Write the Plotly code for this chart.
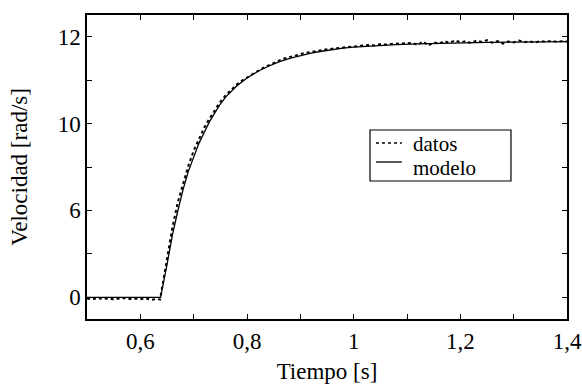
import plotly.graph_objects as go

# ---- data ----
t_datos = [0.50, 0.51, 0.52, 0.53, 0.54, 0.55, 0.56, 0.57, 0.58, 0.59,
           0.60, 0.61, 0.62, 0.63, 0.637, 0.64, 0.65, 0.66, 0.67, 0.68,
           0.69, 0.70, 0.71, 0.72, 0.73, 0.74, 0.75, 0.76, 0.77, 0.78,
           0.79, 0.80, 0.81, 0.82, 0.83, 0.84, 0.85, 0.86, 0.87, 0.88,
           0.89, 0.90, 0.91, 0.92, 0.93, 0.94, 0.95, 0.96, 0.97, 0.98,
           0.99, 1.00, 1.01, 1.02, 1.03, 1.04, 1.05, 1.06, 1.07, 1.08,
           1.09, 1.10, 1.11, 1.12, 1.13, 1.14, 1.15, 1.16, 1.17, 1.18,
           1.19, 1.20, 1.21, 1.22, 1.23, 1.24, 1.25, 1.26, 1.27, 1.28,
           1.29, 1.30, 1.31, 1.32, 1.33, 1.34, 1.35, 1.36, 1.37, 1.38,
           1.39, 1.40]
v_datos = [-0.06, -0.09, -0.04, -0.08, -0.05, -0.10, -0.06, -0.03, -0.08, -0.06,
           -0.09, -0.05, -0.12, -0.08, -0.10, 0.35, 1.80, 3.20, 4.35, 5.25,
           6.05, 6.75, 7.30, 7.82, 8.25, 8.65, 9.00, 9.30, 9.55, 9.78,
           9.97, 10.13, 10.28, 10.42, 10.56, 10.68, 10.80, 10.90, 11.00, 11.07,
           11.14, 11.20, 11.26, 11.30, 11.35, 11.38, 11.42, 11.45, 11.48, 11.50,
           11.53, 11.55, 11.58, 11.60, 11.62, 11.60, 11.66, 11.64, 11.67, 11.68,
           11.66, 11.70, 11.72, 11.62, 11.78, 11.60, 11.74, 11.68, 11.80, 11.72,
           11.83, 11.74, 11.80, 11.70, 11.82, 11.76, 11.84, 11.72, 11.80, 11.68,
           11.78, 11.74, 11.82, 11.75, 11.79, 11.73, 11.80, 11.76, 11.81, 11.77,
           11.79, 11.78]

t_modelo = [0.50, 0.638, 0.65, 0.66, 0.67, 0.68, 0.69, 0.70, 0.71, 0.72,
            0.73, 0.74, 0.75, 0.76, 0.78, 0.80, 0.82, 0.84, 0.86, 0.88,
            0.90, 0.92, 0.94, 0.96, 0.98, 1.00, 1.04, 1.08, 1.12, 1.16,
            1.20, 1.25, 1.30, 1.35, 1.40]
v_modelo = [0.0, 0.0, 1.5, 2.85, 3.95, 4.95, 5.8, 6.5, 7.1, 7.6,
            8.1, 8.5, 8.9, 9.22, 9.72, 10.1, 10.4, 10.64, 10.84, 11.0,
            11.13, 11.24, 11.33, 11.41, 11.47, 11.52, 11.59, 11.64, 11.67, 11.70,
            11.72, 11.74, 11.75, 11.76, 11.77]

series_names = ["datos", "modelo"]
x_tickvals = [0.6, 0.8, 1.0, 1.2, 1.4]
x_ticktext = ["0,6", "0,8", "1", "1,2", "1,4"]
y_tickvals = [0, 4, 8, 12]
y_ticktext = ["0", "6", "10", "12"]

FONT = "Liberation Serif, Times New Roman, Times, serif"

fig = go.Figure()
fig.add_trace(go.Scatter(x=t_datos, y=v_datos, mode="lines", name=series_names[0],
                         line=dict(color="black", width=2, dash="dot"), showlegend=False))
fig.add_trace(go.Scatter(x=t_modelo, y=v_modelo, mode="lines", name=series_names[1],
                         line=dict(color="black", width=1.3), showlegend=False))

axis_common = dict(showgrid=False, zeroline=False, showline=True, linecolor="black",
                   linewidth=1.5, mirror="allticks", ticks="inside", ticklen=5,
                   tickwidth=1, tickcolor="black", automargin=False,
                   tickfont=dict(family=FONT, size=23, color="black"))

fig.update_xaxes(range=[0.5, 1.4], tickmode="array", tickvals=x_tickvals,
                 ticktext=x_ticktext, ticklabelstandoff=1,
                 minor=dict(dtick=0.1, tick0=0.5, ticks="inside", ticklen=5, tickcolor="black"),
                 title=dict(text="Tiempo [s]", font=dict(family=FONT, size=23, color="black"),
                            standoff=10),
                 **axis_common)
fig.update_yaxes(range=[-1, 13], tickmode="array", tickvals=y_tickvals,
                 ticktext=y_ticktext, ticklabelstandoff=0,
                 minor=dict(dtick=2, tick0=0, ticks="inside", ticklen=5, tickcolor="black"),
                 title=dict(text="Velocidad [rad/s]", font=dict(family=FONT, size=23, color="black"),
                            standoff=24),
                 **axis_common)

# ---- legend drawn as a framed box (paper coordinates of the plot area) ----
lx0, lx1, ly0, ly1 = 0.5896, 0.8833, 0.4539, 0.6217
sx0, sx1 = 0.602, 0.656
row_line_y = [0.5789, 0.5164]
row_text_y = [0.5757, 0.4967]
sample_dash = ["dot", "solid"]
sample_width = [1.6, 1.3]
fig.add_shape(type="rect", xref="paper", yref="paper", x0=lx0, x1=lx1, y0=ly0, y1=ly1,
              line=dict(color="black", width=1.2), fillcolor="white", layer="above")
for i, name in enumerate(series_names):
    fig.add_shape(type="line", xref="paper", yref="paper", x0=sx0, x1=sx1,
                  y0=row_line_y[i], y1=row_line_y[i],
                  line=dict(color="black", width=sample_width[i], dash=sample_dash[i]),
                  layer="above")
    fig.add_annotation(xref="paper", yref="paper", x=0.675, y=row_text_y[i],
                       xanchor="left", yanchor="middle", text=name, showarrow=False,
                       font=dict(family=FONT, size=21, color="black"))

fig.update_layout(
    width=582, height=387,
    margin=dict(l=87, r=15, t=15, b=68),
    paper_bgcolor="white", plot_bgcolor="white",
    showlegend=False,
)

fig.write_html("out.html")
